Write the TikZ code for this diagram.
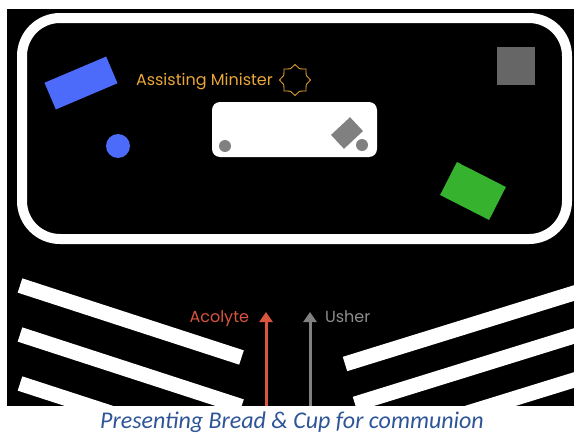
\documentclass[tikz,border=0pt]{standalone}
\usepackage{fontspec}
\setmainfont{Carlito}
\newfontfamily\plainsans{Poppins}
\usepackage{tikz}
\usetikzlibrary{shapes.geometric, arrows.meta, positioning}
\usepackage{xcolor}
\definecolor{floor}{HTML}{000000}
\definecolor{minister}{HTML}{E9A63A}
\definecolor{acolyte}{HTML}{D9553F}
\definecolor{usher}{HTML}{808080}
\definecolor{bluepiece}{HTML}{4D6BFA}
\definecolor{greenpiece}{HTML}{36B22F}
\definecolor{darkpiece}{HTML}{666666}
\definecolor{captionblue}{HTML}{2E5597}

\begin{document}
\begin{tikzpicture}[
    x=1pt, y=-1pt,
    every node/.style={inner sep=0pt, outer sep=0pt},
    role/.style={font=\plainsans\fontsize{16}{18}\selectfont},
    pew/.style={draw=white, line width=15pt},
    arr/.style={-{Triangle[width=13pt, length=10pt]}, line width=3pt}
]
    \useasboundingbox (0,0) rectangle (574,434);
    \fill[floor] (7,9) rectangle (574,406);

    % Chancel outline
    \draw[white, line width=10pt, rounded corners=38pt] (22,18) rectangle (567,239);

    % Altar with vessels
    \node[fill=white, rounded corners=8pt, minimum width=165pt, minimum height=55pt]
        (altar) at (294.5,129.5) {};
    \node[circle, fill=usher, minimum size=12pt] (lamp1) at (225,146) {};
    \node[circle, fill=usher, minimum size=12pt] (lamp2) at (362,145) {};
    \node[fill=usher, minimum width=19pt, minimum height=26pt, rotate=-47]
        (book) at (347,133) {};

    % Seats and people in the chancel
    \node[fill=bluepiece, minimum width=67pt, minimum height=29pt, rotate=23]
        (chair) at (81,83) {};
    \node[circle, fill=bluepiece, minimum size=24pt] (presider) at (118,146) {};
    \node[fill=darkpiece, minimum width=38pt, minimum height=38pt] (credence) at (516,66) {};
    \node[fill=greenpiece, minimum width=55pt, minimum height=37pt, rotate=-27]
        (font) at (473,191) {};

    \node[star, star points=8, star point ratio=1.28, draw=minister, line width=0.8pt,
          minimum size=31pt] (amStar) at (295,80) {};
    \node[role, text=minister, anchor=base west] (amLabel) at (136,85) {Assisting Minister};

    % Pews
    \begin{scope}
        \clip (7,9) rectangle (574,406);
        \foreach \dy in {0,49,98}
            \draw[pew] (20,285.5+\dy) -- (241.5,357.5+\dy);
        \draw[pew] (345,364) -- (600,285);
        \draw[pew] (355,404) -- (600,328);
        \draw[pew] (380,440) -- (600,372);
    \end{scope}

    % Procession up the aisle
    \coordinate (acoBase) at (266,406);
    \coordinate (acoTip) at (266,312);
    \coordinate (ushBase) at (310,406);
    \coordinate (ushTip) at (310,312);
    \draw[arr, acolyte] (acoBase) -- (acoTip);
    \draw[arr, usher] (ushBase) -- (ushTip);
    \node[role, text=acolyte, anchor=base east] (acoLabel) at (249,322) {Acolyte};
    \node[role, text=usher!90!white, anchor=base west] (ushLabel) at (325,322) {Usher};

    \node[text=captionblue, font=\itshape\fontsize{24}{26}\selectfont, anchor=base]
        (caption) at (292,428) {Presenting Bread \& Cup for communion};
\end{tikzpicture}
\end{document}
